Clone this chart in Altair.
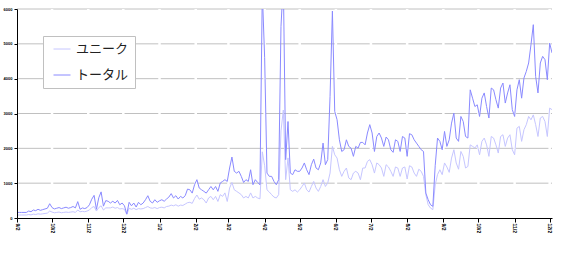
import altair as alt
import pandas as pd

START = "2006-09-02"

total = [
    160, 160, 160, 160, 160,
    200, 180, 230, 210, 250, 220, 240, 260, 280,
    410,
    300, 260, 280, 300, 270, 290, 310, 280, 300, 330, 290,
    470,
    250, 290, 270,
    300, 380, 540, 650, 250, 580, 750, 340, 500, 480,
    430, 480, 430, 505, 380, 430, 350, 115, 450, 350,
    430, 315, 450, 380, 430, 525, 640, 480, 430, 525,
    450, 495, 525, 480, 545, 600, 700, 575, 640, 545,
    620, 575, 640, 830, 810, 715, 955, 1100, 860,
    810, 765, 715, 810, 905, 810, 905, 765, 1005, 1050,
    1100, 1050, 1435, 1750, 1340, 1290, 1340, 1195, 1020, 1100,
    1050, 1385, 955, 1100, 1020, 955,
    6500, 4600,
    1290, 1195, 1195, 1050, 955, 1100,
    5500, 6800,
    1675, 2770,
    1290, 1245, 1385, 1340, 1340, 1435, 1580, 1385, 1245, 1530,
    1690, 1435, 1385, 1580, 2150, 1530, 1675,
    3490, 5940, 3060, 2820,
    2245, 1910, 1960, 2245, 2055, 2005, 1770, 2055, 2005, 2170,
    2170, 2100, 2440, 2680, 2440, 1910, 2340,
    2440, 2295, 2055, 2325, 2245, 1960, 1885, 2245, 2200, 1910,
    2340, 2295, 1770, 2420, 2390, 2245, 2150, 2055, 1960, 1910,
    715, 525, 380, 335, 1500,
    2295, 2200, 1960, 2485, 2055, 2245, 2725, 3010, 2295, 2200, 2915, 2770, 2340,
    2295, 3680, 3440, 3200, 3250, 2915, 3440, 3590, 3200, 2870,
    3730, 3680, 3395, 3155, 3730, 3875, 3300, 3590, 3825, 3110,
    2915, 3680, 3970, 3440, 4020, 4210, 4450, 4975, 5550, 4065,
    3590, 4450, 4640, 4545, 3970, 5020, 4740,
]

unique = [
    86, 86, 86, 86, 86,
    100, 90, 110, 100, 120, 110, 120, 130, 140,
    200,
    170, 150, 160, 170, 150, 160, 170, 160, 170, 180, 160,
    230,
    180, 190, 180,
    200, 230, 300, 330, 200, 300, 350, 230, 290, 290,
    290, 315, 280, 300, 260, 270, 250, 100, 280, 250,
    280, 240, 270, 260, 270, 300, 330, 290, 280, 300,
    270, 300, 310, 290, 330, 340, 370, 350, 380, 340,
    370, 360, 400, 440, 450, 420, 560, 660, 540,
    575, 525, 430, 575, 620, 525, 620, 475, 670, 620,
    720, 475, 860, 1020, 810, 765, 720, 670, 575, 620,
    575, 720, 575, 620, 575, 550,
    1900, 1500,
    810, 745, 670, 600, 575, 670,
    2500, 3100,
    1100, 1725,
    810, 765, 810, 745, 810, 905, 1005, 810, 745, 905,
    1050, 860, 765, 905, 1100, 905, 1005,
    1290, 2055, 1815, 1720,
    1385, 1195, 1340, 1435, 1150, 1100, 1290, 1340, 1290, 1100,
    1435, 1435, 1625, 1675, 1530, 1290, 1580,
    1530, 1435, 1195, 1530, 1465, 1340, 1195, 1465, 1435, 1195,
    1435, 1465, 1120, 1500, 1465, 1290, 1195, 1400, 1340, 1195,
    670, 380, 285, 240, 950,
    1245, 1385, 1245, 1580, 1465, 1310, 1720, 1960, 1580, 1400, 1910, 1770, 1435,
    1480, 2100, 2055, 2010, 2100, 1815, 2200, 2295, 2100, 1770,
    2340, 2295, 2100, 1865, 2340, 2390, 2055, 2295, 2390, 1960,
    1815, 2580, 2630, 2200, 2535, 2680, 2915, 2820, 2960, 2680,
    2340, 2870, 2915, 2770, 2340, 3155, 3110,
]

series_names = ["ユニーク", "トータル"]
series_colors = ["#c6c6ff", "#8a8aff"]

tick_dates = [
    (2006, 9, 2), (2006, 10, 2), (2006, 11, 2), (2006, 12, 2),
    (2007, 1, 2), (2007, 2, 2), (2007, 3, 2), (2007, 4, 2),
    (2007, 5, 2), (2007, 6, 2), (2007, 7, 2), (2007, 8, 2),
    (2007, 9, 2), (2007, 10, 2), (2007, 11, 2), (2007, 12, 2),
]
y_ticks = [0, 1000, 2000, 3000, 4000, 5000, 6000]

dates = pd.date_range(START, periods=len(total), freq="2D").strftime("%Y-%m-%d")
df = pd.concat([
    pd.DataFrame({"date": dates, "value": unique, "series": series_names[0]}),
    pd.DataFrame({"date": dates, "value": total, "series": series_names[1]}),
])
ticks_df = pd.DataFrame({"date": ["%04d-%02d-%02d" % t for t in tick_dates]})
grid_df = pd.DataFrame({"value": y_ticks[1:]})

dt = lambda y, m, d: alt.DateTime(year=y, month=m, date=d, utc=True)

xscale = alt.Scale(type="utc", domain=[dt(2006, 9, 2), dt(2007, 12, 4)], nice=False)
yscale = alt.Scale(domain=[0, 6000], nice=False)

x_axis = alt.Axis(
    values=[dt(*t) for t in tick_dates],
    labelExpr="utcFormat(datum.value, '%-m/%-d')",
    labelAngle=90, labelFontSize=5, labelFont="Liberation Sans",
    labelFontWeight="bold", labelColor="black",
    labelPadding=1, labelFlush=False, labelOverlap=False,
    tickColor="black", tickSize=4, domainColor="black",
    grid=False, title=None, zindex=1,
)
y_axis = alt.Axis(
    values=y_ticks, format="d", labelFontSize=4, labelFont="Liberation Sans",
    labelFontWeight="bold", labelColor="black", labelPadding=2,
    tickColor="black", tickSize=3, domainColor="black",
    grid=False, title=None, zindex=1,
)

hgrid = alt.Chart(grid_df).mark_rule(color="#c0c0c0", strokeWidth=1).encode(
    y=alt.Y("value:Q", scale=yscale, axis=y_axis)
)

vgaps = alt.Chart(ticks_df).mark_rule(color="white", strokeWidth=2.5).encode(
    x=alt.X("date:T", scale=xscale, axis=x_axis)
)

lines = alt.Chart(df).mark_line(strokeWidth=1, clip=True).encode(
    x=alt.X("date:T", scale=xscale, axis=x_axis),
    y=alt.Y("value:Q", scale=yscale, axis=y_axis),
    color=alt.Color(
        "series:N",
        scale=alt.Scale(domain=series_names, range=series_colors),
        legend=alt.Legend(
            title=None, orient="none", legendX=26, legendY=27,
            symbolType="stroke", symbolSize=289, symbolStrokeWidth=1,
            labelFont="Noto Sans CJK JP", labelFontSize=13, labelColor="#222222",
            padding=6, symbolOffset=4, labelOffset=5, rowPadding=12,
            clipHeight=14, strokeColor="#c0c0c0", fillColor="white",
        ),
    ),
    detail="series:N",
)

chart = alt.layer(hgrid, vgaps, lines).properties(
    width=535, height=209,
    autosize=alt.AutoSizeParams(type="none"),
    padding={"left": 17, "top": 9, "right": 10, "bottom": 50},
    background="white",
).configure_view(stroke=None)

chart.save("out.html", embed_options={"renderer": "svg", "actions": False})
